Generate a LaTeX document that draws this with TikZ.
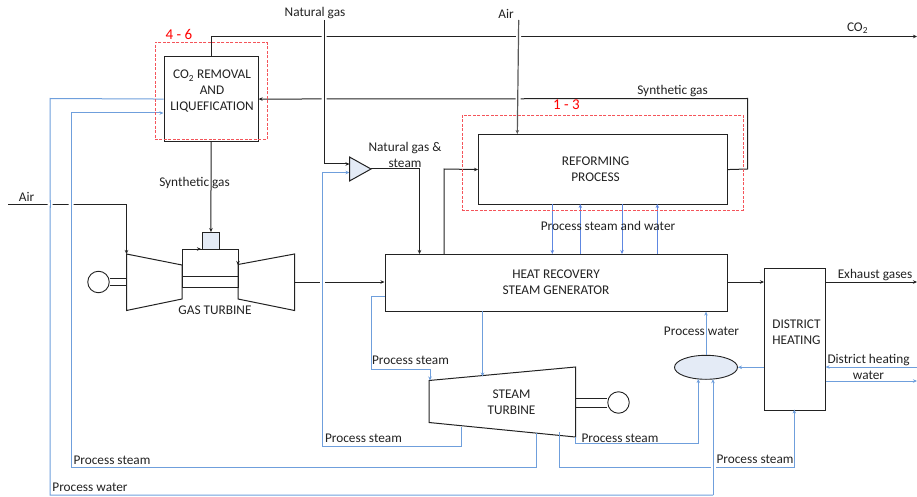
\documentclass[tikz,border=0pt]{standalone}
\usepackage{fontspec}
\setmainfont{Carlito}
\usetikzlibrary{arrows.meta,shapes.geometric}
\definecolor{pblue}{HTML}{6F9FDC}
\definecolor{pfill}{HTML}{E4EBF6}
\definecolor{pdash}{HTML}{F4545A}
\definecolor{ink}{HTML}{222222}
\tikzset{
  x=1pt,y=-1pt,
  >={Stealth[length=4pt,width=3.5pt]},
  blk/.style={draw=ink,line width=1pt},
  blu/.style={draw=pblue,line width=1pt},
  boxn/.style={draw=ink,line width=1.1pt,fill=white,align=center,inner sep=0pt,anchor=north west},
  redbox/.style={draw=pdash,line width=0.7pt,dash pattern=on 3pt off 1.5pt,fill=none,inner sep=0pt,anchor=north west},
  lab/.style={font=\fontsize{13.3}{16}\selectfont,text=ink,inner sep=0pt,align=center},
  redlab/.style={font=\fontsize{15}{17}\selectfont,text=red,inner sep=0pt},
}
\begin{document}
\begin{tikzpicture}
\useasboundingbox (0,0) rectangle (917,497);
% boxes
\node[boxn,minimum width=94pt,minimum height=85pt] (co2) at (163.5,56) {};
\node[boxn,minimum width=249pt,minimum height=70pt] (ref) at (478,134) {};
\node[boxn,minimum width=342.5pt,minimum height=56.5pt] (hrsg) at (384.5,254) {};
\node[boxn,minimum width=60.5pt,minimum height=141.5pt] (dh) at (764,268) {};
\node[draw=ink,line width=0.9pt,fill=pfill,ellipse,minimum width=63pt,minimum height=24pt,inner sep=0pt] (tank) at (706,367.3) {};
\node[draw=ink,line width=0.9pt,fill=pfill,minimum width=17pt,minimum height=17pt,inner sep=0pt,anchor=north west] (comb) at (202,232) {};
% generators
\node[draw=ink,line width=0.9pt,circle,minimum size=21.5pt,inner sep=0pt] (gen1) at (98.5,282) {};
\node[draw=ink,line width=0.9pt,circle,minimum size=21.5pt,inner sep=0pt] (gen2) at (618.5,402.5) {};
% named points on the machines
\coordinate (gtin) at (126.5,254);
\coordinate (gtout) at (294.5,282);
\coordinate (stl) at (430,380.5);
\coordinate (stt) at (482.5,376.5);
\coordinate (stb1) at (461.7,426.5);
\coordinate (stb2) at (536,433);
\coordinate (stb3) at (559.3,432);
\coordinate (stb4) at (575.5,437);
\coordinate (tri) at (371,169);
\coordinate (triu) at (349.5,164);
\coordinate (tril) at (349.5,172.5);
\coordinate (tankl) at (698.3,379);
\coordinate (tankr) at (713,379.2);
\coordinate (co2out) at (917,36.5);
\coordinate (ngin) at (324,20);
\coordinate (airin) at (518.7,20);
\coordinate (refair) at (517.3,134);
\coordinate (air2) at (8,204);
\coordinate (ex) at (917,282);
\coordinate (dhin) at (917,367);
\coordinate (dhout) at (917,381);
\coordinate (co2in) at (163.5,113);
\coordinate (hrsgs) at (384.5,296.5);
\coordinate (hrsga) at (419.5,254);
\coordinate (hrsgb) at (444,254);
\coordinate (dhb) at (794.3,409.5);
% gas turbine
\draw[blk] (126.5,254) -- (182,265) -- (182,299) -- (126.5,310.5) -- cycle;
\draw[blk] (294.5,254) -- (238,264.5) -- (238,299) -- (294.5,310.5) -- cycle;
\draw[blk] (182,249) rectangle (238,276);
\draw[blk] (182,276) rectangle (238,287.5);
\draw[blk,->] (195,249) -- (201,249);
\draw[blk,->] (238,258) -- (238,265);
\draw[blk] (gen1.east |- 0,278.5) -- (126.5,278.5) (gen1.east |- 0,285.5) -- (126.5,285.5);
% steam turbine
\draw[blk] (429,380.5) -- (575.5,367) -- (575.5,437) -- (429,422.5) -- cycle;
\draw[blk] (575.5,398.5) -- (gen2.west |- 0,398.5) (575.5,407) -- (gen2.west |- 0,407);
% blue lines
\draw[blu] (co2.west) -- (50,98.5) -- (50,495) -- (713,495);
\draw[blu,->] (71,467) -- (71,113) -- (co2in);
\draw[blu] (71,467) -- (536,467) -- (stb2);
\draw[blu,->] (stb1) -- (461.7,446) -- (322,446) -- (322,172.5) -- (tril);
\draw[blu,->] (hrsgs) -- (371.5,296.5) -- (371.5,369.5) -- (430,369.5) -- (stl);
\draw[blu,->] (482.5,310.5) -- (stt);
\draw[blu,->] (stb4) -- (575.5,443.7) -- (698.3,443.7) -- (tankl);
\draw[blu,->] (stb3) -- (559.3,467) -- (794.3,467) -- (dhb);
\fill[white] (710.5,465) rectangle (715.5,469);
\draw[blu,->] (713,495) -- (tankr);
\draw[blu,->] (tank.north) -- (tank.north |- hrsg.south);
\draw[blu,->] (dh.west |- tank.east) -- (tank.east);
\draw[blu,->] (dhin) -- (dh.east |- dhin);
\draw[blu,->] (dh.east |- dhout) -- (dhout);
\foreach \x/\a/\b in {552.3/204/254,622/204/254,580.3/254/204,657.3/254/204}
  \draw[blu,draw=pblue!85!blue,->] (\x,\a) -- (\x,\b);
% black lines
\draw[blk,->] (air2) -- (126.5,204) -- (gtin);
\fill[white] (47.5,202.5) rectangle (52.5,205.5) (68.5,202.5) rectangle (73.5,205.5);
\draw[blu] (50,200) -- (50,208) (71,200) -- (71,208);
\draw[blk,->] (co2.south) -- (comb.north);
\draw[blk,->] (gtout) -- (hrsg.west |- gtout);
\fill[white] (319.5,280) rectangle (324.5,284);
\draw[blu] (322,278) -- (322,286);
\draw[blk,->] (co2.north) -- (co2.north |- co2out) -- (co2out);
\draw[blk,->] (ref.east) -- (747.7,169) -- (747.7,98.5) -- (co2.east);
\fill[white] (321.5,34.5) rectangle (326.5,38.5) (321.5,96) rectangle (326.5,100);
\fill[white] (516,34.5) rectangle (521,38.5) (515.5,96) rectangle (520.5,100);
\draw[blk,->] (ngin) -- (324,164) -- (triu);
\draw[draw=ink!75,line width=1.2pt,->] (airin) -- (refair);
\draw[blk,fill=pfill] (349.5,157) -- (tri) -- (349.5,181) -- cycle;
\draw[blk,->] (tri) -- (419.5,169) -- (hrsga);
\draw[blk,->] (hrsgb) -- (444,169) -- (ref.west);
\draw[blk,->] (hrsg.east |- ex) -- (dh.west |- ex);
\draw[blk,->] (dh.east |- ex) -- (ex);
% red boxes
\node[redbox,minimum width=112pt,minimum height=97.5pt] (r1) at (154.5,42) {};
\node[redbox,minimum width=281.5pt,minimum height=94.5pt] (r2) at (461.5,115) {};
% labels
\node[redlab] (l46) at (179,34.5) {4 - 6};
\node[redlab] (l13) at (566.5,105) {1 - 3};
\node[lab] (tco2) at (212,91.5) {CO\textsubscript{2} REMOVAL\\AND\\LIQUEFICATION};
\node[lab] (tref) at (595.5,169) {REFORMING\\PROCESS};
\node[lab] (thr) at (556,282) {HEAT RECOVERY\\STEAM GENERATOR};
\node[lab] (tdh) at (796.5,332) {DISTRICT\\HEATING};
\node[lab] (tst) at (511.5,402.5) {STEAM\\TURBINE};
\node[lab] (tgt) at (215,310.5) {GAS TURBINE};
\node[lab] (t1) at (315,13.5) {Natural gas};
\node[lab] (t2) at (506,13.5) {Air};
\node[lab] (t3) at (857.5,28.5) {CO\textsubscript{2}};
\node[lab] (t4) at (672.5,91) {Synthetic gas};
\node[lab] (t5) at (194.5,183.5) {Synthetic gas};
\node[lab] (t6) at (26.5,197) {Air};
\node[lab] (t7) at (405,154.5) {Natural gas \&\\steam};
\node[lab] (t8) at (608,226) {Process steam and water};
\node[lab] (t9) at (410.5,360.5) {Process steam};
\node[lab] (t10) at (363.5,438.5) {Process steam};
\node[lab] (t11) at (112,460) {Process steam};
\node[lab] (t12) at (90,487.5) {Process water};
\node[lab] (t13) at (620,438.5) {Process steam};
\node[lab] (t14) at (755,459.5) {Process steam};
\node[lab] (t15) at (701.5,331.5) {Process water};
\node[lab] (t16) at (875,275) {Exhaust gases};
\node[lab] (t17) at (868.5,367) {District heating\\water};
\end{tikzpicture}
\end{document}
